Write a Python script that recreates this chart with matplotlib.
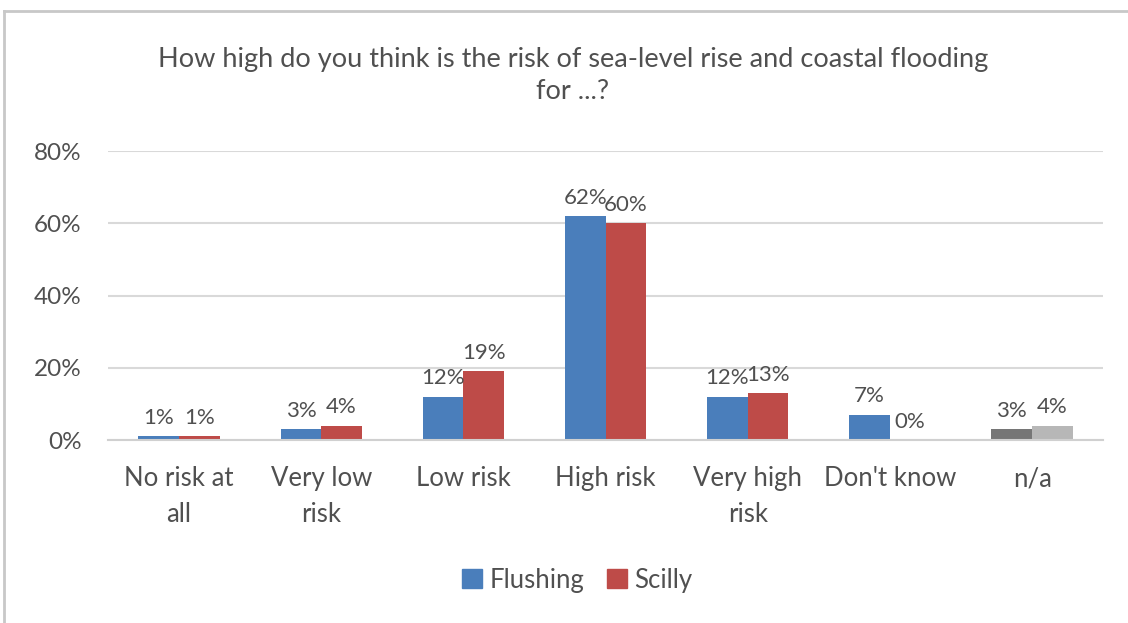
import matplotlib.pyplot as plt
import numpy as np
from matplotlib.lines import Line2D

plt.rcParams['font.family'] = ['Lato', 'DejaVu Sans']

categories = ["No risk at\nall", "Very low\nrisk", "Low risk", "High risk",
              "Very high\nrisk", "Don't know", "n/a"]
flushing = [1, 3, 12, 62, 12, 7, 3]
scilly = [1, 4, 19, 60, 13, 0, 4]

blue = "#4a7ebb"
red = "#be4b48"
text_col = "#505050"

fig = plt.figure(figsize=(11.28, 6.23), dpi=100)
ax = fig.add_axes([0.0957, 0.2937, 0.8823, 0.4639])

x = np.arange(len(categories))
w = 0.2857
fl_colors = [blue] * 6 + ["#767676"]
sc_colors = [red] * 6 + ["#b7b7b7"]
b1 = ax.bar(x - w / 2, flushing, w, color=fl_colors, zorder=3, label="Flushing")
b2 = ax.bar(x + w / 2, scilly, w, color=sc_colors, zorder=3, label="Scilly")

for bars, vals in ((b1, flushing), (b2, scilly)):
    for rect, v in zip(bars, vals):
        ax.annotate(f"{v}%", (rect.get_x() + rect.get_width() / 2, rect.get_height()),
                    xytext=(0, 6), textcoords="offset points", ha="center", va="bottom",
                    fontsize=16, color=text_col)

ax.set_xlim(-0.5, len(categories) - 0.5)
ax.set_ylim(0, 80)
ax.set_yticks([0, 20, 40, 60, 80])
ax.set_yticklabels([f"{t}%" for t in [0, 20, 40, 60, 80]])
ax.set_xticks(x)
ax.set_xticklabels(categories, linespacing=1.55)
ax.tick_params(axis="both", length=0, labelcolor=text_col)
ax.tick_params(axis="y", labelsize=17.5, pad=19)
ax.tick_params(axis="x", labelsize=18.5, pad=19)
ax.yaxis.grid(True, color="#d9d9d9", linewidth=1.5, zorder=0)
for s in ["top", "right", "left"]:
    ax.spines[s].set_visible(False)
ax.spines["bottom"].set_color("#d0d0d0")
ax.spines["bottom"].set_linewidth(1.5)
ax.spines["bottom"].set_zorder(4)

fig.text(0.508, 0.879, "How high do you think is the risk of sea-level rise and coastal flooding\nfor ...?",
         ha="center", va="center", fontsize=19.5, color=text_col, linespacing=1.35)

handles = [plt.Rectangle((0, 0), 1, 1, color=blue), plt.Rectangle((0, 0), 1, 1, color=red)]
fig.legend(handles, ["Flushing", "Scilly"], loc="center", bbox_to_anchor=(0.512, 0.069),
           ncol=2, frameon=False, fontsize=18.5, handlelength=0.75, handleheight=0.75,
           handletextpad=0.3, columnspacing=0.9, labelcolor=text_col)

# outer frame
fig.add_artist(Line2D([0.0035, 0.0035], [0, 0.983], color="#c8c8c8", linewidth=2))
fig.add_artist(Line2D([0.0035, 1.0], [0.983, 0.983], color="#c8c8c8", linewidth=2))

fig.savefig("out.png", dpi=100)
